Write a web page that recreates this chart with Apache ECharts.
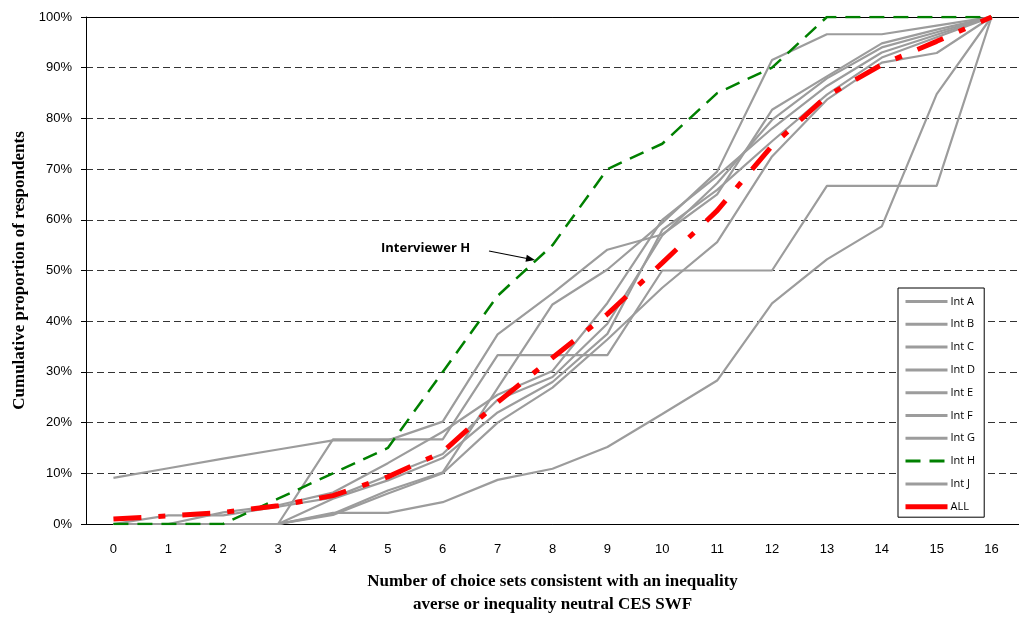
<!DOCTYPE html>
<html>
<head>
<meta charset="utf-8">
<script src="https://cdn.jsdelivr.net/npm/echarts@6/dist/echarts.min.js"></script>
<style>
  html, body { margin: 0; padding: 0; background: #fff; }
  #chart { width: 1019px; height: 621px; }
</style>
</head>
<body>
<div id="chart"></div>
<script>
// number of consistent choice sets (x axis)
const cats = ['0', '1', '2', '3', '4', '5', '6', '7', '8', '9', '10', '11', '12', '13', '14', '15', '16'];
const yTicks = [0, 10, 20, 30, 40, 50, 60, 70, 80, 90, 100];

// cumulative proportion of respondents, in %
const intA = [9.1, 11.0, 12.9, 14.7, 16.5, 16.5, 20.2, 37.4, 45.5, 54.1, 57.1, 65.0, 81.7, 88.3, 94.8, 97.5, 100];
const intB = [0, 0, 0, 0, 2.0, 6.6, 10.2, 26.8, 43.3, 50.2, 59.4, 69.5, 91.5, 96.6, 96.6, 98.3, 100];
const intC = [0, 1.7, 1.7, 3.4, 5.2, 9.5, 13.8, 24.5, 29.0, 39.5, 56.9, 67.2, 79.7, 87.9, 94.0, 97.0, 100];
const intD = [0, 0, 2.3, 3.7, 6.2, 12.0, 18.2, 25.5, 30.2, 43.6, 60.0, 68.6, 78.0, 86.4, 93.0, 96.5, 100];
const intE = [0, 0, 0, 0, 1.8, 6.0, 10.0, 20.0, 26.9, 36.4, 46.6, 55.6, 72.5, 83.7, 91.0, 92.9, 100];
const intF = [0, 0, 0, 0, 5.0, 8.6, 13.0, 22.0, 28.0, 37.5, 58.0, 65.9, 75.5, 84.7, 92.0, 96.0, 100];
const intG = [0, 0, 0, 0, 16.7, 16.7, 16.7, 33.3, 33.3, 33.3, 50, 50, 50, 66.7, 66.7, 66.7, 100];
const intH = [0, 0, 0, 5, 10, 15, 30, 45, 55, 70, 75, 85, 90, 100, 100, 100, 100];
const intJ = [0, 0, 0, 0, 2.2, 2.2, 4.3, 8.7, 10.9, 15.2, 21.7, 28.3, 43.5, 52.2, 58.7, 84.8, 100];
const allResp = [1.0, 1.6, 2.3, 3.6, 5.6, 9.3, 14.2, 24.0, 32.8, 41.4, 51.5, 61.8, 74.6, 84.4, 90.6, 95.2, 100];

const GREY = '#9c9c9c';

function greyLine(name, data) {
  return {
    name, type: 'line', data, symbol: 'none', silent: true,
    lineStyle: { color: GREY, width: 2.2 },
    itemStyle: { color: GREY },
  };
}

const chart = echarts.init(document.getElementById('chart'));

chart.setOption({
  animation: false,
  textStyle: { fontFamily: '"Liberation Sans", Arial, sans-serif' },
  grid: { left: 86, top: 17, width: 941, height: 508 },
  legend: {
    orient: 'vertical',
    left: 898,
    top: 288,
    padding: [8, 9, 5, 5],
    itemWidth: 42,
    itemHeight: 10,
    itemGap: 11.8,
    borderColor: '#000',
    borderWidth: 1,
    backgroundColor: '#fff',
    itemStyle: { opacity: 0 },
    lineStyle: { width: 3 },
    textStyle: { fontSize: 11, color: '#000', fontFamily: '"Open Sans", sans-serif', padding: [0, 0, 0, -2] },
    data: [
      'Int A', 'Int B', 'Int C', 'Int D', 'Int E', 'Int F', 'Int G', 'Int H', 'Int J',
      { name: 'ALL', lineStyle: { type: 'solid', width: 5 } },
    ],
  },
  xAxis: [
    {
      type: 'category',
      data: cats,
      axisLine: { lineStyle: { color: '#000', width: 1 } },
      axisTick: { length: 6, lineStyle: { color: '#000' } },
      axisLabel: { color: '#000', fontSize: 13, margin: 19 },
      name: 'Number of choice sets consistent with an inequality\naverse or inequality neutral CES SWF',
      nameLocation: 'middle',
      nameGap: 46,
      nameTextStyle: {
        fontFamily: '"Liberation Serif", "Times New Roman", serif',
        fontWeight: 'bold', fontSize: 17, lineHeight: 23, color: '#000',
      },
    },
    {
      // plot border along the 100% line
      type: 'category',
      data: cats,
      position: 'top',
      axisLine: { lineStyle: { color: '#000', width: 1 } },
      axisTick: { show: false },
      axisLabel: { show: false },
    },
  ],
  yAxis: {
    type: 'value',
    min: yTicks[0],
    max: yTicks[yTicks.length - 1],
    interval: 10,
    axisLine: { show: true, lineStyle: { color: '#000', width: 1 } },
    axisTick: { show: true, length: 5, lineStyle: { color: '#000' } },
    axisLabel: { color: '#000', fontSize: 13, margin: 14, formatter: '{value}%' },
    splitLine: { lineStyle: { color: '#333', type: [7, 4], width: 1 } },
    name: 'Cumulative proportion of respondents',
    nameLocation: 'middle',
    nameGap: 58,
    nameTextStyle: {
      fontFamily: '"Liberation Serif", "Times New Roman", serif',
      fontWeight: 'bold', fontSize: 17, color: '#000',
    },
  },
  series: [
    greyLine('Int A', intA),
    greyLine('Int B', intB),
    greyLine('Int C', intC),
    greyLine('Int D', intD),
    greyLine('Int E', intE),
    greyLine('Int F', intF),
    greyLine('Int G', intG),
    greyLine('Int J', intJ),
    {
      name: 'Int H', type: 'line', data: intH, symbol: 'none', silent: true,
      lineStyle: { color: '#008000', width: 2.5, type: [15, 9] },
      itemStyle: { color: '#008000' },
    },
    {
      name: 'ALL', type: 'line', data: allResp, symbol: 'none', silent: true,
      lineStyle: { color: '#ff0000', width: 5, type: [28, 17, 7, 17] },
      itemStyle: { color: '#ff0000' },
    },
  ],
  graphic: [
    {
      type: 'text', left: 381, top: 242,
      style: { text: 'Interviewer H', fill: '#000', font: 'bold 13px "Open Sans", sans-serif' },
    },
    {
      type: 'line',
      shape: { x1: 489, y1: 251, x2: 527, y2: 258.5 },
      style: { stroke: '#000', lineWidth: 1.2 },
    },
    {
      type: 'polygon',
      shape: { points: [[535, 260], [525.5, 261.8], [526.8, 254.8]] },
      style: { fill: '#000' },
    },
  ],
});
</script>
</body>
</html>
